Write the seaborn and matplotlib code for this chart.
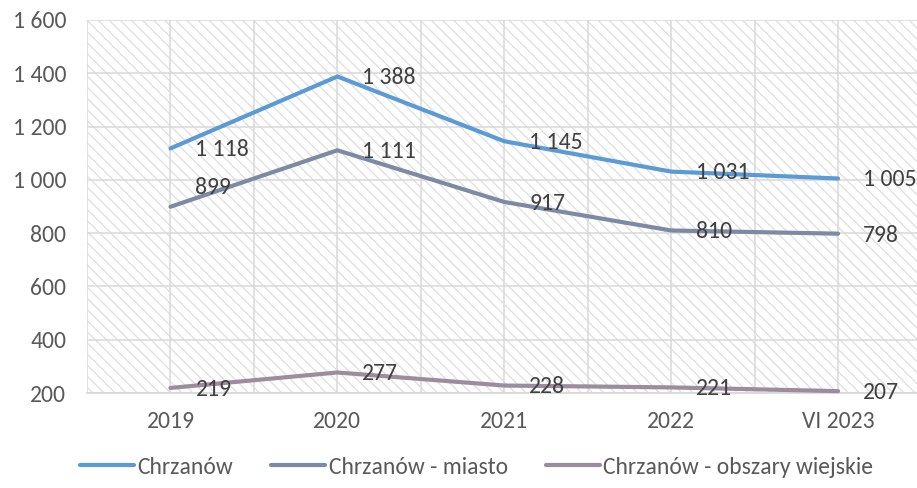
import matplotlib
matplotlib.use("Agg")
import matplotlib.pyplot as plt
import matplotlib.patches as mpatches
from matplotlib.ticker import FuncFormatter
import seaborn as sns
import pandas as pd

categories = ["2019", "2020", "2021", "2022", "VI 2023"]
chrzanow = [1118, 1388, 1145, 1031, 1005]
miasto = [899, 1111, 917, 810, 798]
wiejskie = [219, 277, 228, 221, 207]
series_names = ["Chrzanów", "Chrzanów - miasto", "Chrzanów - obszary wiejskie"]
colors = ["#5b9bd5", "#7d8aa3", "#9c8c9c"]

rows = []
for name, vals in zip(series_names, [chrzanow, miasto, wiejskie]):
    for i, (c, v) in enumerate(zip(categories, vals)):
        rows.append({"idx": i, "cat": c, "value": v, "series": name})
df = pd.DataFrame(rows)

sns.set_theme(style="white")
plt.rcParams['font.family'] = ['Carlito', 'Liberation Sans Narrow', 'Open Sans', 'DejaVu Sans']
plt.rcParams['hatch.linewidth'] = 0.9

FS = 17

fig = plt.figure(figsize=(9.17, 4.88), dpi=100)
ax = fig.add_axes([87/917, 95/488, (921.5-87)/917, 373/488])

bg = mpatches.Rectangle((0, 0), 1, 1, transform=ax.transAxes, facecolor="white",
                        edgecolor="#dedede", hatch="\\\\\\", linewidth=0, zorder=0)
ax.add_patch(bg)

sns.lineplot(data=df, x="idx", y="value", hue="series", palette=colors,
             linewidth=3.0, ax=ax, legend=False, zorder=3)
for ln in ax.lines:
    ln.set_clip_on(False)
    ln.set_solid_capstyle("round")

ax.set_xlim(-0.5, 4.5)
ax.set_ylim(200, 1600)
ax.set_xticks(range(len(categories)))
ax.set_xticklabels(categories)
ax.set_xticks([i + 0.5 for i in range(-1, len(categories))], minor=True)
ax.set_yticks(range(200, 1601, 200))
ax.yaxis.set_major_formatter(FuncFormatter(lambda v, p: f"{int(v):,}".replace(",", " ")))
ax.grid(True, which="both", color="#d9d9d9", linewidth=1.1, zorder=1)
ax.set_axisbelow(True)
for s in ["top", "right", "left"]:
    ax.spines[s].set_visible(False)
ax.spines["bottom"].set_color("#d9d9d9")
ax.spines["bottom"].set_linewidth(1.3)
ax.tick_params(axis="both", which="both", length=0, labelsize=FS, colors="#595959")
ax.tick_params(axis="y", pad=15)
ax.tick_params(axis="x", pad=13)
ax.set_xlabel("")
ax.set_ylabel("")

offsets = {("Chrzanów - miasto", 0): (18, 14)}
for name, vals in zip(series_names, [chrzanow, miasto, wiejskie]):
    for i, v in enumerate(vals):
        dx, dy = offsets.get((name, i), (18, -1))
        ax.annotate(f"{v:,}".replace(",", " "), (i, v), xytext=(dx, dy),
                    textcoords="offset points", ha="left", va="center",
                    fontsize=FS, color="#404040", zorder=4, annotation_clip=False)

handles = [plt.Line2D([0], [0], color=c, linewidth=3.0, solid_capstyle="round") for c in colors]
fig.legend(handles, series_names, loc="center", bbox_to_anchor=(476.5/917, 21/488), ncol=3,
           frameon=False, fontsize=FS, handlelength=2.3, handletextpad=0.15,
           columnspacing=1.6, labelcolor="#595959")

fig.savefig("out.png", dpi=100)
